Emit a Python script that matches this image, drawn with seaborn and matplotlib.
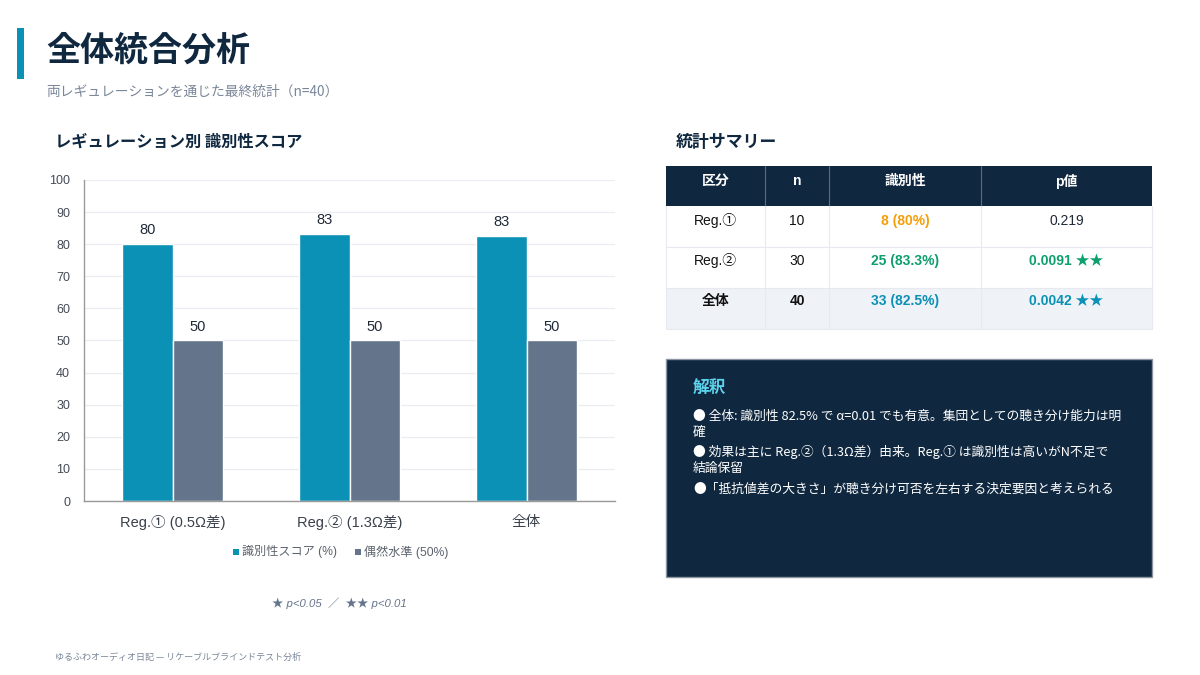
import matplotlib
matplotlib.use("Agg")
import matplotlib.pyplot as plt
from matplotlib.patches import Rectangle
import seaborn as sns
import pandas as pd

# ---------------- data ----------------
categories = ["Reg.① (0.5Ω差)", "Reg.② (1.3Ω差)", "全体"]
score_values = [80.0, 83.3, 82.5]
chance_values = [50.0, 50.0, 50.0]
series_names = ["識別性スコア (%)", "偶然水準 (50%)"]
y_ticks = [0, 10, 20, 30, 40, 50, 60, 70, 80, 90, 100]

table_header = ["区分", "n", "識別性", "p値"]
table_groups = ["Reg.①", "Reg.②", "全体"]
table_n = ["10", "30", "40"]
table_ident = ["8 (80%)", "25 (83.3%)", "33 (82.5%)"]
table_p = ["0.219", "0.0091 ★★", "0.0042 ★★"]

notes = [
    "● 全体: 識別性 82.5% で α=0.01 でも有意。集団としての聴き分け能力は明\n確",
    "● 効果は主に Reg.②（1.3Ω差）由来。Reg.① は識別性は高いがN不足で\n結論保留",
    "●「抵抗値差の大きさ」が聴き分け可否を左右する決定要因と考えられる",
]

# ---------------- style ----------------
sns.set_theme(style="white")
LATIN = ["Liberation Sans", "Noto Sans CJK JP", "DejaVu Sans"]
CJK = ["Noto Sans CJK JP", "DejaVu Sans"]
plt.rcParams["font.family"] = LATIN

NAVY = "#10283F"
TEAL = "#0B91B5"
SLATE = "#64748B"
GRAY_TXT = "#7A8699"

W, H = 1200, 675
fig = plt.figure(figsize=(12, 6.75), dpi=100)
fig.patch.set_facecolor("white")

ov = fig.add_axes([0, 0, 1, 1], zorder=0)
ov.set_xlim(0, W)
ov.set_ylim(H, 0)
ov.axis("off")

# ---------------- header ----------------
ov.add_patch(Rectangle((17, 28), 7, 51, color=TEAL, lw=0))
ov.text(46, 50, "全体統合分析", fontsize=24.5, fontweight="bold", color=NAVY,
        va="center", ha="left", family=CJK)
ov.text(46, 92, "両レギュレーションを通じた最終統計（n=40）", fontsize=9.9, color=GRAY_TXT,
        va="center", ha="left", family=CJK)
ov.text(55, 142, "レギュレーション別 識別性スコア", fontsize=11.7, fontweight="bold", color=NAVY,
        va="center", ha="left", family=CJK)
ov.text(676, 142, "統計サマリー", fontsize=12.2, fontweight="bold", color=NAVY,
        va="center", ha="left", family=CJK)

# ---------------- bar chart ----------------
df = pd.DataFrame({
    "category": categories * 2,
    "value": score_values + chance_values,
    "series": [series_names[0]] * 3 + [series_names[1]] * 3,
})
ax = fig.add_axes([84 / W, 1 - 501 / H, (615 - 84) / W, (501 - 180) / H], zorder=2)
sns.barplot(data=df, x="category", y="value", hue="series", order=categories,
            hue_order=series_names, palette=[TEAL, SLATE], width=0.57,
            saturation=1, ax=ax, legend=False)
ax.set_facecolor("none")
ax.set_ylim(0, 100)
ax.set_xlim(-0.5, 2.5)
ax.set_yticks(y_ticks)
ax.set_yticklabels([str(t) for t in y_ticks], fontsize=9, color="#444B55")
ax.tick_params(axis="x", labelsize=10.5, colors="#3A414B", length=0, pad=10)
ax.tick_params(axis="y", length=4, color="#999999", pad=6)
ax.set_xticks([0, 1, 2])
ax.set_xticklabels(categories)
ax.set_xticks([0.5, 1.5, 2.5], minor=True)
ax.tick_params(axis="x", which="minor", length=4, color="#999999")
ax.set_xlabel("")
ax.set_ylabel("")
ax.grid(axis="y", color="#EAEEF4", lw=0.9)
ax.set_axisbelow(True)
for s in ["top", "right"]:
    ax.spines[s].set_visible(False)
for s in ["left", "bottom"]:
    ax.spines[s].set_color("#9A9A9A")
    ax.spines[s].set_linewidth(1)
for cont in ax.containers:
    ax.bar_label(cont, labels=[f"{int(v + 0.5)}" for v in cont.datavalues], padding=5,
                 fontsize=10.5, color="#1F2937")

# legend row
ov.add_patch(Rectangle((233, 549), 6, 6, color=TEAL, lw=0))
ov.text(242, 552, series_names[0], fontsize=8.7, color="#5B626C", va="center", ha="left")
ov.add_patch(Rectangle((355, 549), 6, 6, color=SLATE, lw=0))
ov.text(364, 552, series_names[1], fontsize=8.7, color="#5B626C", va="center", ha="left")

ov.text(339, 603, "★ p<0.05  ／  ★★ p<0.01", fontsize=8.2, color=SLATE, style="italic",
        va="center", ha="center")
ov.text(55, 657, "ゆるふわオーディオ日記 — リケーブルブラインドテスト分析", fontsize=6.5,
        color=GRAY_TXT, style="italic", va="center", ha="left", family=CJK)

# ---------------- table ----------------
col_x = [666, 765, 829, 981, 1152]
row_y = [166, 206, 247, 288, 329]
ov.add_patch(Rectangle((666, 166), 1152 - 666, 40, color=NAVY, lw=0))
ov.add_patch(Rectangle((666, 288), 1152 - 666, 41, color="#EFF3F8", lw=0))
for x in col_x[1:-1]:
    ov.plot([x, x], [166, 206], color="#5A6B80", lw=0.8)
    ov.plot([x, x], [206, 329], color="#E6EAF0", lw=0.8)
for y in row_y[2:4]:
    ov.plot([666, 1152], [y, y], color="#E6EAF0", lw=0.8)
ov.plot([666, 666], [206, 329], color="#E6EAF0", lw=0.8)
ov.plot([1152, 1152], [206, 329], color="#E6EAF0", lw=0.8)
ov.plot([666, 1152], [329, 329], color="#E6EAF0", lw=0.8)

centers = [(col_x[i] + col_x[i + 1]) / 2 for i in range(4)]
for c, t in zip(centers, table_header):
    ov.text(c, 181, t, fontsize=10, fontweight="bold", color="white", ha="center", va="center")

row_text_y = [221, 261, 301]
ident_colors = ["#F59E0B", "#0E9F6E", TEAL]
p_colors = ["#1F2937", "#0E9F6E", TEAL]
for i in range(3):
    fw = "bold" if i == 2 else "normal"
    ov.text(centers[0], row_text_y[i], table_groups[i], fontsize=10, fontweight=fw,
            color="#111111", ha="center", va="center")
    ov.text(centers[1], row_text_y[i], table_n[i], fontsize=10, fontweight=fw,
            color="#111111", ha="center", va="center")
    ov.text(centers[2], row_text_y[i], table_ident[i], fontsize=10, fontweight="bold",
            color=ident_colors[i], ha="center", va="center")
    ov.text(centers[3], row_text_y[i], table_p[i], fontsize=10,
            fontweight="normal" if i == 0 else "bold",
            color=p_colors[i], ha="center", va="center")

# ---------------- interpretation panel ----------------
ov.add_patch(Rectangle((666, 359), 1152 - 666, 577 - 359, facecolor=NAVY,
                       edgecolor="#8A94A0", lw=1))
ov.text(693, 388, "解釈", fontsize=12, fontweight="bold", color="#5ED3EE", ha="left",
        va="center", family=CJK)
note_y = [410, 445, 483]
for y, t in zip(note_y, notes):
    ov.text(693, y, t, fontsize=9.2, color="white", ha="left", va="top", linespacing=1.3,
            family=CJK)

fig.savefig("out.png", dpi=100, facecolor="white")
